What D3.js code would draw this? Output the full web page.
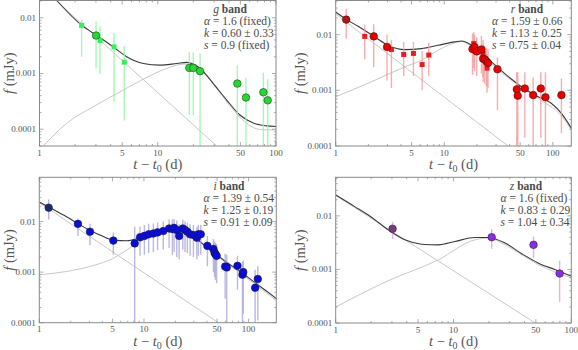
<!DOCTYPE html>
<html lang="en">
<head>
<meta charset="UTF-8" />
<title>Light curves g r i z</title>
<style>
  body { margin: 0; background: #fff; }
  .frame { fill: none; stroke: #8a8a8a; stroke-width: 1; }
  .tick { stroke: #8a8a8a; stroke-width: 0.7; }
  .ticklab { font-size: 9px; fill: #555; }
  .axtitle { font-size: 14.5px; fill: #555; }
  .legend { font-size: 11.5px; fill: #4a4a4a; }
  .comp { fill: none; stroke: #c2c2c2; stroke-width: 0.9; }
  .total { fill: none; stroke: #3a3a3a; stroke-width: 1.1; }
</style>
</head>
<body>
<svg id="chart" width="578" height="350"></svg>
<script src="https://d3js.org/d3.v7.min.js"></script>
<script>
const FONT = "'Liberation Serif', 'DejaVu Serif', 'Times New Roman', serif";

// tick labels
const xTickValues = [1, 5, 10, 50, 100];
const yTickValues = [0.01, 0.001, 0.0001];
const yTickText = ["0.01", "0.001", "0.0001"];

// ---- g band ---- points: [t, f, lo, hi]
const gSquares = [
  [2.27, 0.0073, 0.0020, 0.0092],
  [3.25, 0.0039, 0.00097, 0.0070],
  [4.27, 0.0030, 0.00031, 0.0054],
  [5.21, 0.0016, 0.000143, 0.0031]
];
const gCircles = [
  [3.01, 0.0048, 0.00123, 0.0087],
  [18.5, 0.00126, 0.00018, 0.0024],
  [20.0, 0.00126, 0.00018, 0.0024],
  [22.8, 0.0011, 0.00001, 0.0023],
  [47.1, 0.00066, 0.00001, 0.0014],
  [55.7, 0.00037, 0.00001, 0.00084],
  [78.2, 0.00046, 0.00001, 0.00103],
  [85.1, 0.00033, 0.00001, 0.00079]
];
const gTotal = [[1.40, 0.0204], [2.28, 0.0073], [3.04, 0.00484], [4.21, 0.00299], [5.46, 0.0020],
  [7.55, 0.00151], [10.4, 0.00141], [14.5, 0.00151], [17.5, 0.00158], [22.8, 0.00123],
  [29.5, 0.00066], [38.3, 0.000334], [49.5, 0.00018], [64.3, 0.000129], [83.2, 0.000115], [100, 0.000112]];
const gSn = [[1.08, 0.0000504], [1.70, 0.000128], [2.85, 0.000254], [5.12, 0.000504], [7.55, 0.00079],
  [11.9, 0.00123], [16.4, 0.00147], [20.0, 0.00147], [24.3, 0.00107], [31.5, 0.000537],
  [43.7, 0.000221], [60.3, 0.000115], [77.6, 0.0000977], [100, 0.0000977]];
const gPow = [[1, 0.038], [31.5, 0.00005]];
const gLegend = [["α", " = 1.6 (fixed)"], ["k", " = 0.60 ± 0.33"], ["s", " = 0.9 (fixed)"]];

// ---- r band ----
const rCircles = [
  [1.25, 0.0186, 0.0085, 0.029],
  [2.24, 0.0093, 0.0026, 0.0153],
  [2.97, 0.0060, 0.0015, 0.0100],
  [18.2, 0.0055, 0.0019, 0.0105],
  [19.0, 0.0060, 0.0022, 0.0098],
  [19.9, 0.0050, 0.0018, 0.0090],
  [22.0, 0.0054, 0.0020, 0.0095],
  [22.8, 0.0037, 0.0014, 0.0068],
  [23.6, 0.0036, 0.0013, 0.0062],
  [24.5, 0.0033, 0.0012, 0.0058],
  [25.3, 0.0031, 0.0011, 0.0055],
  [30.9, 0.00239, 0.00044, 0.0039],
  [46.6, 0.00104, 0.00001, 0.0021],
  [47.5, 0.00080, 0.00001, 0.0021],
  [55.2, 0.00108, 0.00014, 0.0021],
  [65.9, 0.00082, 0.00001, 0.0017],
  [77.5, 0.00108, 0.00014, 0.0021],
  [85.5, 0.00075, 0.00001, 0.0021],
  [120, 0.00082, 0.00017, 0.00163]
];
const rSquares = [
  [1.85, 0.0093, 0.0036, 0.0147],
  [3.26, 0.0054, 0.0011, 0.0081],
  [4.23, 0.0044, 0.0018, 0.0074],
  [5.2, 0.0046, 0.0018, 0.0074],
  [6.25, 0.0029, 0.0010, 0.0051],
  [7.2, 0.0043, 0.0018, 0.0072],
  [18.7, 0.0069, 0.0025, 0.011],
  [22.8, 0.0046, 0.0017, 0.008],
  [24.8, 0.0025, 0.0009, 0.0045]
];
const rTotal = [[1, 0.0255], [1.25, 0.0188], [1.61, 0.0141], [2.29, 0.00908], [3.03, 0.00644],
  [4.33, 0.00538], [6.17, 0.00561], [8.77, 0.00644], [12.5, 0.0074], [14.4, 0.0077],
  [17.8, 0.00646], [22.0, 0.00457], [27.2, 0.00324], [36.1, 0.0020], [51.4, 0.00116],
  [73.3, 0.000766], [97.3, 0.000581], [120, 0.000385], [148.6, 0.000207]];
const rSn = [[1, 0.000766], [2.13, 0.00142], [4.33, 0.00264], [6.17, 0.00347], [8.77, 0.00525],
  [12.5, 0.0071], [14.4, 0.0075], [22.0, 0.00427], [36.1, 0.00186], [73.3, 0.000714],
  [120, 0.000347], [148.6, 0.000195]];
const rPow = [[1, 0.0235], [38.7, 0.0001]];
const rLegend = [["α", " = 1.59 ± 0.66"], ["k", " = 1.13 ± 0.25"], ["s", " = 0.75 ± 0.04"]];

// ---- i band ----
const iCircles = [
  [1.23, 0.0188, 0.0110, 0.0274],
  [2.34, 0.0090, 0.0052, 0.0114],
  [3.05, 0.0063, 0.0034, 0.0091],
  [5.1, 0.0042, 0.0022, 0.0061],
  [8.16, 0.0037, 0.00001, 0.0079],
  [9.18, 0.0049, 0.0021, 0.0080],
  [10.1, 0.0052, 0.0022, 0.0085],
  [11.1, 0.0056, 0.0024, 0.0090],
  [12.3, 0.0058, 0.0025, 0.0092],
  [13.5, 0.0061, 0.0027, 0.0096],
  [15.3, 0.0065, 0.0028, 0.0100],
  [17.4, 0.0073, 0.0030, 0.0110],
  [18.7, 0.0071, 0.0022, 0.0110],
  [19.4, 0.0075, 0.0025, 0.0112],
  [20.6, 0.0068, 0.0020, 0.0105],
  [21.7, 0.0052, 0.0018, 0.0088],
  [23.5, 0.0073, 0.0028, 0.0108],
  [24.7, 0.0068, 0.0025, 0.0100],
  [26.0, 0.0063, 0.0024, 0.0095],
  [27.6, 0.0056, 0.0021, 0.0088],
  [29.7, 0.0054, 0.0020, 0.0085],
  [32.0, 0.0048, 0.0018, 0.0078],
  [33.1, 0.0056, 0.0021, 0.0085],
  [34.9, 0.0056, 0.0022, 0.0085],
  [40.4, 0.0033, 0.0013, 0.0052],
  [46.1, 0.00287, 0.0010, 0.0045],
  [47.3, 0.00243, 0.0008, 0.0040],
  [48.2, 0.00226, 0.0007, 0.0038],
  [49.5, 0.0021, 0.0006, 0.0036],
  [59.7, 0.00129, 0.0003, 0.0023],
  [61.8, 0.00124, 0.00001, 0.0022],
  [78.3, 0.00133, 0.00045, 0.0021],
  [87.4, 0.00089, 0.00001, 0.0016],
  [88.9, 0.0010, 0.00015, 0.0017],
  [115.5, 0.00049, 0.00001, 0.0011],
  [122.5, 0.00073, 0.00011, 0.0013]
];
const iTotal = [[1, 0.0243], [1.26, 0.0188], [1.82, 0.0124], [2.64, 0.00785], [3.80, 0.0054],
  [5.11, 0.0043], [6.84, 0.00418], [9.18, 0.00479], [13.2, 0.00608], [17.8, 0.00708],
  [22.1, 0.00676], [27.5, 0.00556], [34.4, 0.00399], [46.1, 0.00247], [61.7, 0.00157],
  [83.0, 0.00103], [111, 0.000656], [149, 0.000418], [184.5, 0.0003]];
const iSn = [[1, 0.000887], [1.82, 0.00103], [3.28, 0.00135], [5.11, 0.00188], [6.84, 0.00274],
  [9.18, 0.00399], [13.2, 0.00556], [17.8, 0.00676], [27.5, 0.0054], [46.1, 0.00236],
  [83.0, 0.00096], [184.5, 0.000274]];
const iPow = [[1, 0.0236], [51.5, 0.0001]];
const iLegend = [["α", " = 1.39 ± 0.54"], ["k", " = 1.25 ± 0.19"], ["s", " = 0.91 ± 0.09"]];

// ---- z band ----
const zCircles = [
  [3.04, 0.00573, 0.0037, 0.0078],
  [21.1, 0.0040, 0.00243, 0.00565],
  [47.8, 0.00288, 0.00163, 0.0041],
  [79.6, 0.00084, 0.00025, 0.00145]
];
const zTotal = [[1, 0.0246], [1.45, 0.0149], [2.01, 0.00944], [2.79, 0.00548], [3.86, 0.00357],
  [5.36, 0.00296], [7.43, 0.00288], [10.3, 0.00333], [15.2, 0.00394], [19.8, 0.00394],
  [27.4, 0.0031], [38.0, 0.00196], [52.7, 0.00131], [73.1, 0.00099], [101, 0.00074]];
const zSn = [[1, 0.000199], [2.79, 0.000615], [7.43, 0.00151], [15.2, 0.00357], [19.8, 0.00384],
  [27.4, 0.00288], [52.7, 0.00122], [101, 0.00069]];
const zPow = [[1, 0.024], [49.4, 0.0001]];
const zLegend = [["α", " = 1.6 (fixed)"], ["k", " = 0.83 ± 0.29"], ["s", " = 1.04 ± 0.34"]];

const panels = [
  { band: "g", box: [39.5, 0.5, 276, 146], xMax: 100, yDom: [5e-5, 0.0204],
    total: gTotal, sn: gSn, pow: gPow, circles: gCircles, squares: gSquares, legend: gLegend,
    fill: "#24d830", sqFill: "#34f05c", first: null, bar: "#95f3a6", edge: "#2b3d2b",
    lx: 204, tx: 230, ty: 13, ytx: 14 },
  { band: "r", box: [335.7, 0.5, 571.3, 146], xMax: 148, yDom: [1e-4, 0.041],
    total: rTotal, sn: rSn, pow: rPow, circles: rCircles, squares: rSquares, legend: rLegend,
    fill: "#e80000", sqFill: "#ea1c1c", first: "#b01414", bar: "#f49a9a", edge: "#4a1414",
    lx: 492, tx: 527, ty: 13, ytx: 305 },
  { band: "i", box: [39.3, 177.3, 276.3, 322.7], xMax: 184, yDom: [1e-4, 0.075],
    total: iTotal, sn: iSn, pow: iPow, circles: iCircles, squares: [], legend: iLegend,
    fill: "#0c0cd8", sqFill: "#0c0cd8", first: "#1e2a6e", bar: "#a8a8da", edge: "#1a1a4a",
    lx: 203.5, tx: 229, ty: 189.5, ytx: 14 },
  { band: "z", box: [335.7, 177.3, 571.3, 323], xMax: 100, yDom: [1e-4, 0.0525],
    total: zTotal, sn: zSn, pow: zPow, circles: zCircles, squares: [], legend: zLegend,
    fill: "#8a2ce6", sqFill: "#8a2ce6", first: "#7a3a78", bar: "#d9a2da", edge: "#3a1a4a",
    lx: 500.5, tx: 526, ty: 189.5, ytx: 305 }
];

const svg = d3.select("#chart");
const MAJOR = 4, MINOR = 2;

function isDecade(v) {
  const l = Math.log10(v);
  return Math.abs(l - Math.round(l)) < 1e-6;
}

function label(cls) {
  return svg.append("text").attr("class", cls).style("font-family", FONT);
}

panels.forEach((p, pi) => {
  const [x0, y0, x1, y1] = p.box;
  const x = d3.scaleLog().domain([1, p.xMax]).range([x0, x1]);
  const y = d3.scaleLog().domain(p.yDom).range([y1, y0]);

  svg.append("clipPath").attr("id", "clip" + pi)
    .append("rect").attr("x", x0).attr("y", y0).attr("width", x1 - x0).attr("height", y1 - y0);

  const plot = svg.append("g").attr("clip-path", `url(#clip${pi})`);
  const line = d3.line().x(d => x(d[0])).y(d => y(d[1])).curve(d3.curveMonotoneX);

  plot.append("path").attr("class", "comp").attr("d", line(p.sn));
  plot.append("path").attr("class", "comp").attr("d", line(p.pow));
  plot.append("path").attr("class", "total").attr("d", line(p.total));

  const pts = p.squares.concat(p.circles);
  plot.selectAll(".err").data(pts).enter().append("line")
    .attr("x1", d => x(d[0])).attr("x2", d => x(d[0]))
    .attr("y1", d => y(d[2])).attr("y2", d => y(d[3]))
    .attr("stroke", p.bar).attr("stroke-width", 1.4).attr("stroke-opacity", 0.8);

  plot.selectAll(".sq").data(p.squares).enter().append("rect")
    .attr("x", d => x(d[0]) - 2.5).attr("y", d => y(d[1]) - 2.5)
    .attr("width", 5).attr("height", 5)
    .attr("fill", p.sqFill);

  plot.selectAll(".pt").data(p.circles).enter().append("circle")
    .attr("cx", d => x(d[0])).attr("cy", d => y(d[1])).attr("r", 3.8)
    .attr("fill", (d, k) => (k === 0 && p.first) ? p.first : p.fill)
    .attr("stroke", p.edge).attr("stroke-width", 0.6);

  // frame
  svg.append("rect").attr("class", "frame")
    .attr("x", x0).attr("y", y0).attr("width", x1 - x0).attr("height", y1 - y0);

  // x ticks, inward on bottom and top
  x.ticks().forEach(v => {
    const len = xTickValues.some(t => Math.abs(t - v) < 1e-9) ? MAJOR : MINOR;
    const px = x(v);
    svg.append("line").attr("class", "tick").attr("x1", px).attr("x2", px).attr("y1", y1).attr("y2", y1 - len);
    svg.append("line").attr("class", "tick").attr("x1", px).attr("x2", px).attr("y1", y0).attr("y2", y0 + len);
  });
  xTickValues.filter(v => v <= p.xMax).forEach(v => {
    label("ticklab").attr("x", x(v)).attr("y", y1 + 9.5)
      .attr("text-anchor", "middle").text(v);
  });

  // y ticks, inward on left and right
  y.ticks().forEach(v => {
    const len = isDecade(v) ? MAJOR : MINOR;
    const py = y(v);
    svg.append("line").attr("class", "tick").attr("x1", x0).attr("x2", x0 + len).attr("y1", py).attr("y2", py);
    svg.append("line").attr("class", "tick").attr("x1", x1).attr("x2", x1 - len).attr("y1", py).attr("y2", py);
  });
  yTickValues.forEach((v, k) => {
    label("ticklab").attr("x", x0 - 3.5).attr("y", y(v) + 3)
      .attr("text-anchor", "end").text(yTickText[k]);
  });

  // axis titles
  const xt = label("axtitle")
    .attr("x", (x0 + x1) / 2).attr("y", y1 + 23).attr("text-anchor", "middle");
  xt.append("tspan").attr("font-style", "italic").text("t");
  xt.append("tspan").text(" − ");
  xt.append("tspan").attr("font-style", "italic").text("t");
  xt.append("tspan").attr("font-size", "10px").attr("dy", 3).text("0");
  xt.append("tspan").attr("dy", -3).text(" (d)");

  const yt = label("axtitle").attr("text-anchor", "middle")
    .attr("transform", `translate(${p.ytx},${(y0 + y1) / 2}) rotate(-90)`);
  yt.append("tspan").attr("font-style", "italic").text("f");
  yt.append("tspan").text(" (mJy)");

  // legend
  const tt = label("legend").attr("x", p.tx).attr("y", p.ty)
    .attr("text-anchor", "middle");
  tt.append("tspan").attr("font-style", "italic").text(p.band);
  tt.append("tspan").attr("font-weight", "bold").text(" band");
  p.legend.forEach((row, k) => {
    const t = label("legend").attr("x", p.lx).attr("y", p.ty + 12 * (k + 1));
    t.append("tspan").attr("font-style", "italic").text(row[0]);
    t.append("tspan").text(row[1]);
  });
});
</script>
</body>
</html>
